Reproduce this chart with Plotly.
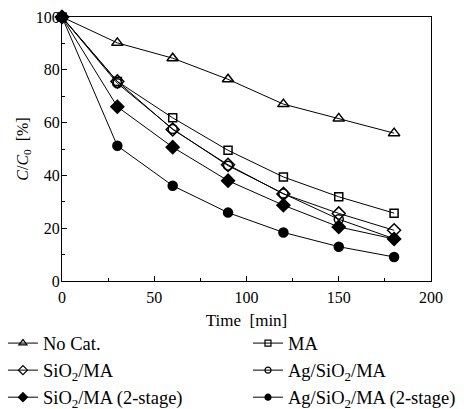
import plotly.graph_objects as go

time_min = [0, 30, 60, 90, 120, 150, 180]
no_cat = [100, 90.2, 84.4, 76.4, 67.0, 61.6, 56.0]
ma = [100, 75.6, 61.8, 49.5, 39.4, 31.9, 25.7]
sio2_ma = [100, 75.6, 57.4, 44.0, 33.0, 25.6, 19.2]
ag_sio2_ma = [100, 74.9, 57.6, 43.7, 33.1, 23.4, 16.0]
sio2_ma_2stage = [100, 66.0, 50.7, 38.0, 28.7, 20.5, 15.9]
ag_sio2_ma_2stage = [100, 51.2, 36.1, 25.9, 18.4, 13.0, 9.1]

series_names = ["No Cat.", "MA", "SiO<sub>2</sub>/MA", "Ag/SiO<sub>2</sub>/MA",
                "SiO<sub>2</sub>/MA (2-stage)", "Ag/SiO<sub>2</sub>/MA (2-stage)"]
series_values = [no_cat, ma, sio2_ma, ag_sio2_ma, sio2_ma_2stage, ag_sio2_ma_2stage]
symbols = ["triangle-up-open", "square-open", "diamond-open", "circle-open", "diamond", "circle"]
plot_sizes = [10, 8, 10, 9, 10, 9]
legend_sizes = [7, 6, 7, 6, 7, 6]
legend_ids = ["legend", "legend2", "legend", "legend2", "legend", "legend2"]

FONT = "Liberation Serif"

fig = go.Figure()
for name, vals, sym, sz in zip(series_names, series_values, symbols, plot_sizes):
    fig.add_trace(go.Scatter(
        x=time_min, y=vals, name=name, mode="lines+markers",
        line=dict(color="black", width=1),
        marker=dict(symbol=sym, size=sz, color="black",
                    line=dict(color="black", width=1.5)),
        cliponaxis=False, showlegend=False,
    ))
# legend entries (smaller symbols, as in the reference legend)
for name, sym, sz, lg in zip(series_names, symbols, legend_sizes, legend_ids):
    fig.add_trace(go.Scatter(
        x=[None], y=[None], name=name, mode="lines+markers",
        line=dict(color="black", width=1),
        marker=dict(symbol=sym, size=sz, color="black",
                    line=dict(color="black", width=1.2)),
        showlegend=True, legend=lg,
    ))

legend_common = dict(
    orientation="v", xanchor="left", y=-0.165, yanchor="top",
    font=dict(family=FONT, size=18.5, color="black"),
    bgcolor="rgba(0,0,0,0)", tracegroupgap=0,
)

fig.update_layout(
    width=464, height=409,
    margin=dict(l=62, r=33, t=17, b=128, autoexpand=False),
    paper_bgcolor="white", plot_bgcolor="white",
    font=dict(family=FONT, size=15, color="black"),
    showlegend=True,
    legend=dict(x=-0.16, **legend_common),
    legend2=dict(x=0.504, **legend_common),
)

fig.update_xaxes(
    range=[0, 200], tickvals=[0, 50, 100, 150, 200],
    ticks="inside", ticklen=5, tickwidth=1, tickcolor="black",
    minor=dict(tickvals=[25, 75, 125, 175], ticks="inside", ticklen=3, tickcolor="black"),
    showline=True, linecolor="black", linewidth=1, mirror=True,
    showgrid=False, zeroline=False, automargin=False,
    tickfont=dict(size=16), ticklabelstandoff=2,
    title=dict(text="Time  [min]", font=dict(size=17), standoff=8),
)
fig.update_yaxes(
    range=[0, 100], tickvals=[0, 20, 40, 60, 80, 100],
    ticks="inside", ticklen=5, tickwidth=1, tickcolor="black",
    minor=dict(tickvals=[10, 30, 50, 70, 90], ticks="inside", ticklen=3, tickcolor="black"),
    showline=True, linecolor="black", linewidth=1, mirror=True,
    showgrid=False, zeroline=False, automargin=False,
    tickfont=dict(size=16), ticklabelstandoff=-2,
    title=dict(text="<i>C</i>/<i>C</i><sub>0</sub>  [%]", font=dict(size=16), standoff=3),
)

fig.write_html("out.html", config={"displayModeBar": False},
               post_script="document.body.style.margin='0px';")
